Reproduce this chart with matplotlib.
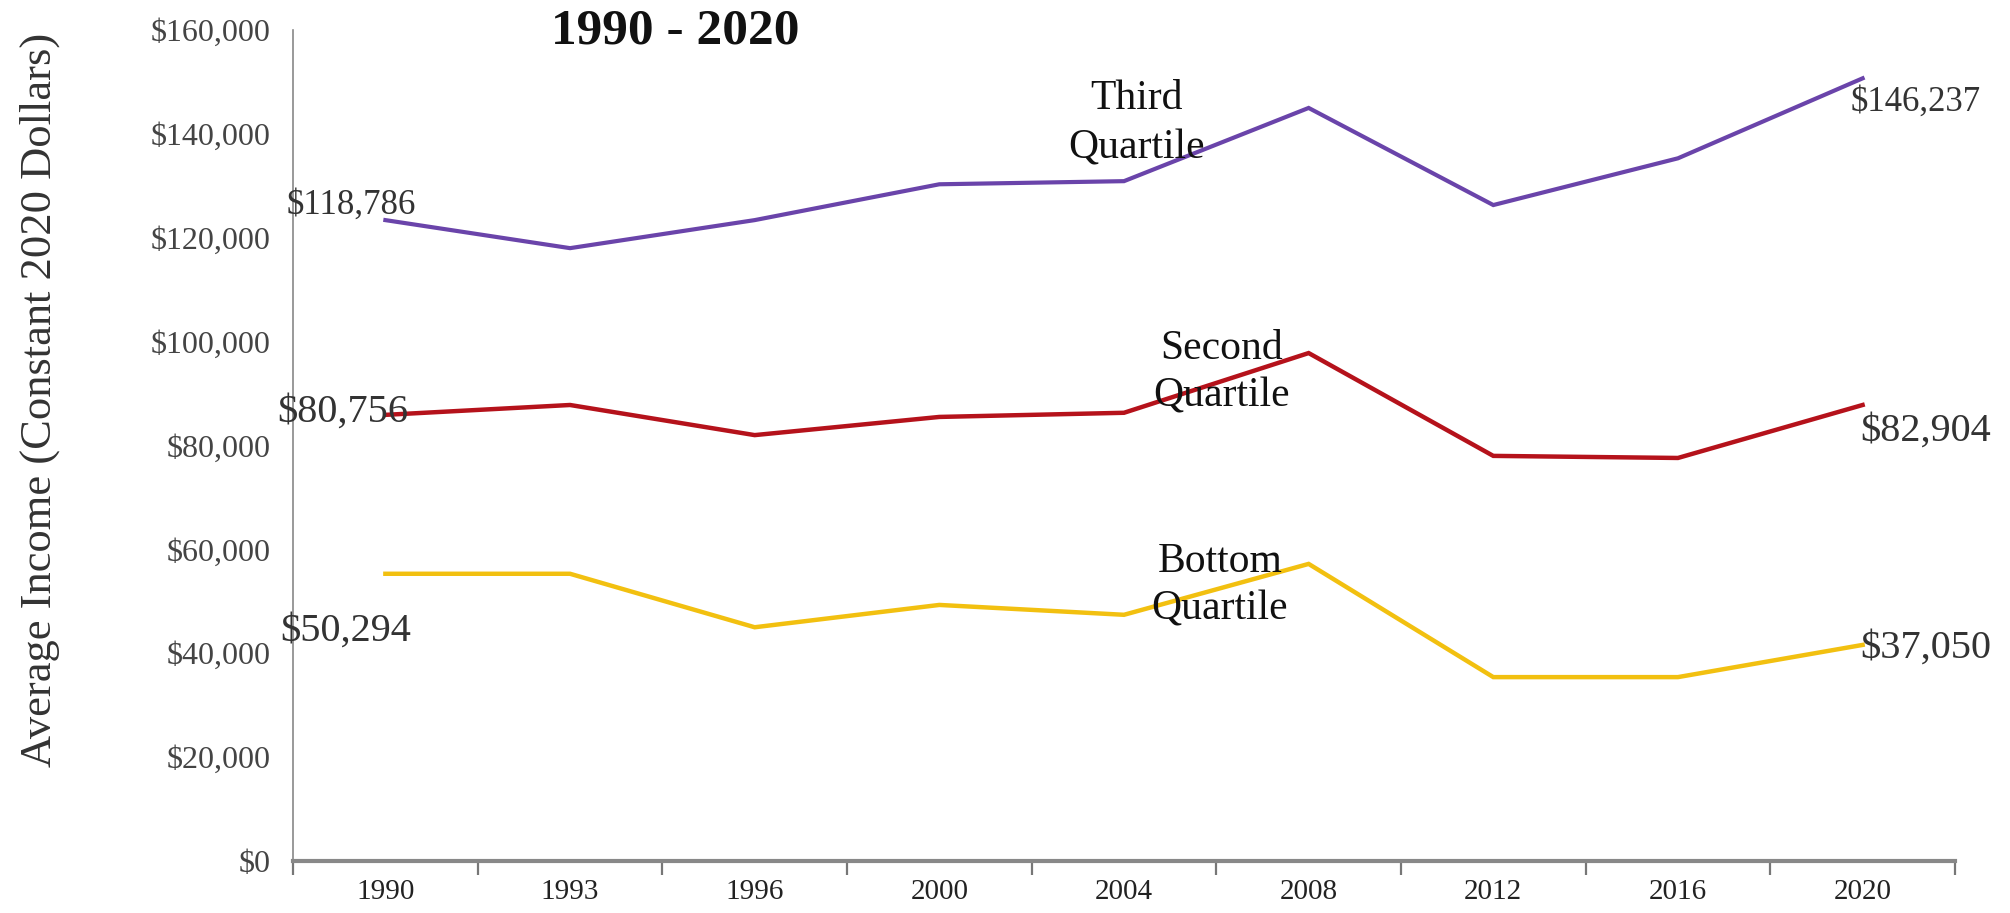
import numpy as np
import matplotlib
matplotlib.use('Agg')
import matplotlib.pyplot as plt
from matplotlib.ticker import FixedLocator, NullFormatter

plt.rcParams['font.family'] = ['Liberation Serif', 'DejaVu Serif']

# values (constant 2020 dollars)
years = ['1990', '1993', '1996', '2000', '2004', '2008', '2012', '2016', '2020']
third_quartile = [123400, 118000, 123400, 130300, 130900, 145000, 126300, 135300, 150700]
second_quartile = [85900, 87800, 82000, 85500, 86300, 97800, 78000, 77600, 87800]
bottom_quartile = [55300, 55300, 45000, 49300, 47400, 57200, 35400, 35400, 41600]

start_labels = ['$118,786', '$80,756', '$50,294']
end_labels = ['$146,237', '$82,904', '$37,050']

ytick_vals = [0, 20000, 40000, 60000, 80000, 100000, 120000, 140000, 160000]
ytick_labels = ['$0', '$20,000', '$40,000', '$60,000', '$80,000',
                '$100,000', '$120,000', '$140,000', '$160,000']

purple = '#6a44aa'
red = '#b5121b'
gold = '#f2c010'


def main():
    fig = plt.figure(figsize=(20.1, 9.13), dpi=100)
    ax = fig.add_axes([0.1458, 0.057, 0.8268, 0.9101])

    x = np.arange(len(years))
    ax.plot(x, third_quartile, color=purple, lw=3, solid_joinstyle='miter')
    ax.plot(x, second_quartile, color=red, lw=3.2, solid_joinstyle='miter')
    ax.plot(x, bottom_quartile, color=gold, lw=3.2, solid_joinstyle='miter')

    ax.set_xlim(-0.5, len(years) - 0.5)
    ax.set_ylim(0, 160000)

    # category axis: ticks between categories, labels in the middle
    ax.xaxis.set_major_locator(FixedLocator(np.arange(-0.5, len(years), 1.0)))
    ax.xaxis.set_major_formatter(NullFormatter())
    ax.xaxis.set_minor_locator(FixedLocator(x))
    ax.set_xticklabels(years, minor=True)
    ax.tick_params(axis='x', which='major', direction='out', length=10, width=1.6, color='#777777')
    ax.tick_params(axis='x', which='minor', length=0, pad=13, labelsize=21, labelcolor='#222222')

    ax.set_yticks(ytick_vals)
    ax.set_yticklabels(ytick_labels)
    ax.tick_params(axis='y', length=0, pad=16, labelsize=23, labelcolor='#444444')

    for s in ['top', 'right']:
        ax.spines[s].set_visible(False)
    ax.spines['left'].set_color('#888888')
    ax.spines['left'].set_linewidth(1.2)
    ax.spines['bottom'].set_color('#888888')
    ax.spines['bottom'].set_linewidth(3)

    # value labels at both ends
    series = [third_quartile, second_quartile, bottom_quartile]
    start_off = [(31, 15), (23, 3), (26, -57)]
    start_size = [25, 29, 29]
    for s, lab, off, fs in zip(series, start_labels, start_off, start_size):
        ax.annotate(lab, xy=(0, s[0]), xytext=off, textcoords='offset pixels',
                    ha='right', va='center', fontsize=fs, color='#333333')
    end_off = [(-12, -24), (-2, -26), (-2, -3)]
    end_size = [25, 29, 29]
    for s, lab, off, fs in zip(series, end_labels, end_off, end_size):
        ax.annotate(lab, xy=(len(years) - 1, s[-1]), xytext=off, textcoords='offset pixels',
                    ha='left', va='center', fontsize=fs, color='#333333',
                    annotation_clip=False)

    # series names
    ax.text(4.07, 142000, 'Third\nQuartile', ha='center', va='center', fontsize=30,
            linespacing=1.35, color='#111111')
    ax.text(4.53, 94000, 'Second\nQuartile', ha='center', va='center', fontsize=30,
            linespacing=1.3, color='#111111')
    ax.text(4.52, 53000, 'Bottom\nQuartile', ha='center', va='center', fontsize=30,
            linespacing=1.3, color='#111111')

    fig.text(0.336, 0.966, '1990 - 2020', ha='center', va='center', fontsize=37,
             fontweight='bold', color='#111111')
    fig.text(0.02, 0.562, 'Average Income (Constant 2020 Dollars)', rotation=90,
             ha='center', va='center', fontsize=32, color='#333333')

    fig.savefig('out.png', dpi=100, facecolor='white')


if __name__ == '__main__':
    main()
